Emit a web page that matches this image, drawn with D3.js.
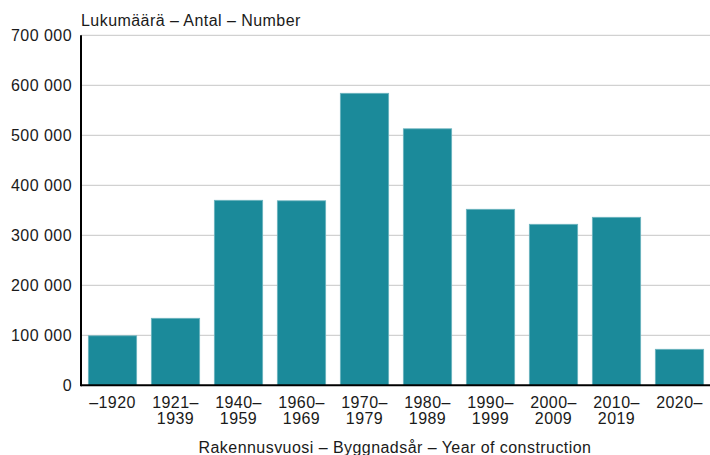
<!DOCTYPE html>
<html><head><meta charset="utf-8">
<script src="https://cdn.jsdelivr.net/npm/d3@7"></script>
<style>body{margin:0;background:#fff}svg{display:block}text{font-family:"Liberation Sans",Arial,sans-serif;fill:#1a1a1a;letter-spacing:0.45px}</style>
</head><body>
<script>
const categories = [["–1920"],["1921–","1939"],["1940–","1959"],["1960–","1969"],["1970–","1979"],["1980–","1989"],["1990–","1999"],["2000–","2009"],["2010–","2019"],["2020–"]];
const values = [99000,134000,370000,369000,584000,513000,352000,322000,336000,72000];
const yTicks = [0,100000,200000,300000,400000,500000,600000,700000];
const yTitle = "Lukumäärä – Antal – Number";
const xTitle = "Rakennusvuosi – Byggnadsår – Year of construction";

const W=710,H=455, mLeft=81, mRight=711, mTop=35.3, mBottom=385.3, FS=16;
const svg=d3.select("body").append("svg").attr("width",W).attr("height",H);
const x=d3.scaleBand().domain(d3.range(categories.length)).range([mLeft,mRight]).paddingInner(0.233).paddingOuter(0.1165);
const y=d3.scaleLinear().domain([0,700000]).range([mBottom,mTop]);
const fmt=v=>d3.format(",")(v).replace(/,/g," ");

// gridlines
svg.append("g").selectAll("line").data(yTicks.filter(d=>d>0)).join("line")
 .attr("x1",mLeft).attr("x2",W).attr("y1",d=>y(d)).attr("y2",d=>y(d))
 .attr("stroke","#c6c6c6").attr("stroke-width",1);

// y labels
const ya=d3.axisLeft(y).tickValues(yTicks).tickFormat(fmt).tickSize(0).tickPadding(9);
const gy=svg.append("g").attr("transform",`translate(${mLeft},0)`).call(ya);
gy.select(".domain").remove();
gy.selectAll("text").attr("font-size",FS).attr("fill","#1a1a1a").style("font-family","Liberation Sans, Arial, sans-serif");

// bars
svg.append("g").selectAll("rect").data(values).join("rect")
 .attr("x",(d,i)=>x(i)).attr("width",x.bandwidth())
 .attr("y",d=>y(d)).attr("height",d=>mBottom-y(d))
 .attr("fill","#1b8a9a").attr("stroke","#6db4be").attr("stroke-width",0.8);

// axes lines
svg.append("line").attr("x1",mLeft).attr("x2",mLeft).attr("y1",mTop).attr("y2",mBottom+1).attr("stroke","#000").attr("stroke-width",2);
svg.append("line").attr("x1",mLeft).attr("x2",W).attr("y1",mBottom).attr("y2",mBottom).attr("stroke","#000").attr("stroke-width",2);

// x labels
const gx=svg.append("g");
categories.forEach((lines,i)=>{
  const t=gx.append("text").attr("x",x(i)+x.bandwidth()/2).attr("y",408).attr("text-anchor","middle").attr("font-size",FS);
  lines.forEach((l,j)=>t.append("tspan").attr("x",x(i)+x.bandwidth()/2).attr("dy",j?15.5:0).text(l));
});

svg.append("text").attr("x",81).attr("y",26).attr("font-size",FS).text(yTitle);
svg.append("text").attr("x",395).attr("y",453).attr("text-anchor","middle").attr("font-size",FS).text(xTitle);
</script>
</body></html>
